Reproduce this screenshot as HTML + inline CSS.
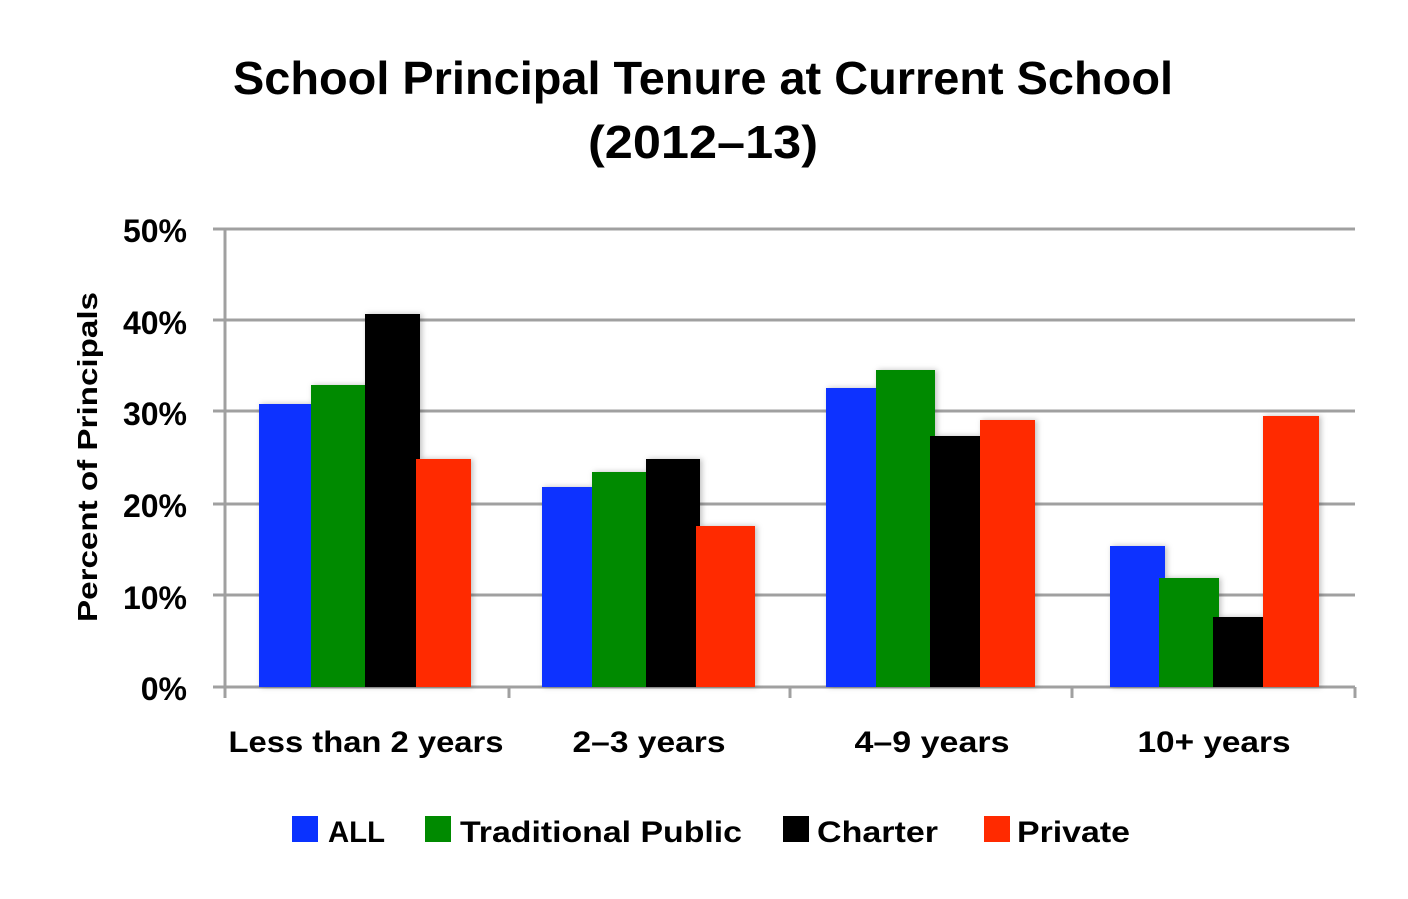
<!DOCTYPE html>
<html><head><meta charset="utf-8"><style>
html,body{margin:0;padding:0;background:#fff;}
svg{display:block;}
text{font-family:"Liberation Sans",sans-serif;font-weight:bold;fill:#000;}
</style></head><body>
<svg width="1408" height="899" viewBox="0 0 1408 899" xmlns="http://www.w3.org/2000/svg">
<defs>
<filter id="sh" x="-20%" y="-10%" width="140%" height="120%"><feDropShadow dx="2" dy="0" stdDeviation="3" flood-color="#000" flood-opacity="0.25"/></filter>
</defs>
<text x="703" y="94" font-size="46" text-anchor="middle" textLength="940" lengthAdjust="spacingAndGlyphs">School Principal Tenure at Current School</text>
<text x="703" y="158" font-size="46" text-anchor="middle" textLength="230" lengthAdjust="spacingAndGlyphs">(2012–13)</text>
<g stroke="#a0a0a0" stroke-width="3">
<line x1="213" y1="229" x2="1355" y2="229"/>
<line x1="213" y1="320" x2="1355" y2="320"/>
<line x1="213" y1="411" x2="1355" y2="411"/>
<line x1="213" y1="504" x2="1355" y2="504"/>
<line x1="213" y1="595" x2="1355" y2="595"/>
<line x1="213" y1="687" x2="1355" y2="687"/>
<line x1="225" y1="229" x2="225" y2="698"/>
<line x1="509" y1="687" x2="509" y2="698"/>
<line x1="790" y1="687" x2="790" y2="698"/>
<line x1="1072" y1="687" x2="1072" y2="698"/>
<line x1="1355" y1="687" x2="1355" y2="698"/>
</g>
<g filter="url(#sh)">
<rect x="259" y="404" width="54" height="283" fill="#0a32ff"/>
<rect x="311" y="385" width="56" height="302" fill="#008a00"/>
<rect x="365" y="314" width="55" height="373" fill="#000"/>
<rect x="416" y="459" width="55" height="228" fill="#ff2a00"/>
<rect x="542" y="487" width="52" height="200" fill="#0a32ff"/>
<rect x="592" y="472" width="55" height="215" fill="#008a00"/>
<rect x="646" y="459" width="54" height="228" fill="#000"/>
<rect x="696" y="526" width="59" height="161" fill="#ff2a00"/>
<rect x="826" y="388" width="52" height="299" fill="#0a32ff"/>
<rect x="876" y="370" width="59" height="317" fill="#008a00"/>
<rect x="930" y="436" width="51" height="251" fill="#000"/>
<rect x="980" y="420" width="55" height="267" fill="#ff2a00"/>
<rect x="1110" y="546" width="55" height="141" fill="#0a32ff"/>
<rect x="1159" y="578" width="60" height="109" fill="#008a00"/>
<rect x="1213" y="617" width="51" height="70" fill="#000"/>
<rect x="1263" y="416" width="56" height="271" fill="#ff2a00"/>
</g>
<g font-size="32" text-anchor="end">
<text x="187" y="242">50%</text>
<text x="187" y="334">40%</text>
<text x="187" y="425">30%</text>
<text x="187" y="517">20%</text>
<text x="187" y="609">10%</text>
<text x="187" y="700">0%</text>
</g>
<text transform="translate(97,457) rotate(-90)" font-size="28" text-anchor="middle" textLength="330" lengthAdjust="spacingAndGlyphs">Percent of Principals</text>
<g font-size="30" text-anchor="middle">
<text x="366" y="752" textLength="275" lengthAdjust="spacingAndGlyphs">Less than 2 years</text>
<text x="649" y="752" textLength="153" lengthAdjust="spacingAndGlyphs">2–3 years</text>
<text x="932" y="752" textLength="155" lengthAdjust="spacingAndGlyphs">4–9 years</text>
<text x="1214" y="752" textLength="153" lengthAdjust="spacingAndGlyphs">10+ years</text>
</g>
<rect x="292" y="816" width="26" height="26" fill="#0a32ff"/>
<rect x="425" y="816" width="26" height="26" fill="#008a00"/>
<rect x="783" y="816" width="26" height="26" fill="#000"/>
<rect x="984" y="816" width="26" height="26" fill="#ff2a00"/>
<g font-size="30">
<text x="328" y="842" textLength="57" lengthAdjust="spacingAndGlyphs">ALL</text>
<text x="460" y="842" textLength="282" lengthAdjust="spacingAndGlyphs">Traditional Public</text>
<text x="817" y="842" textLength="121" lengthAdjust="spacingAndGlyphs">Charter</text>
<text x="1017" y="842" textLength="113" lengthAdjust="spacingAndGlyphs">Private</text>
</g>
</svg>
</body></html>
